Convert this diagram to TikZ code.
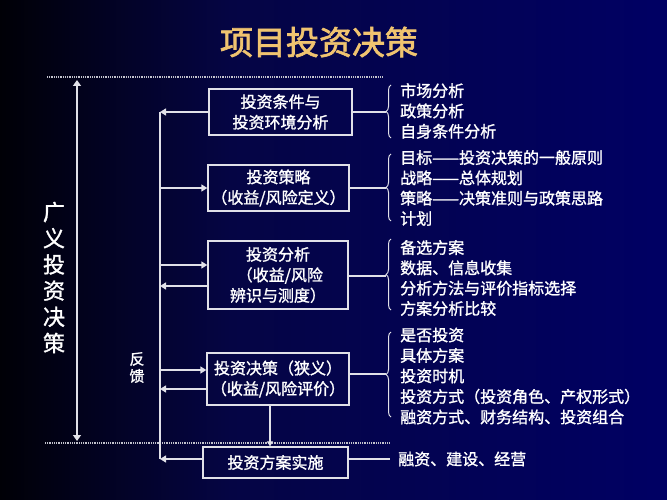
\documentclass[tikz,border=0pt]{standalone}
\usepackage{fontspec}
\setmainfont{Noto Sans CJK SC}[FakeBold=1.3]
\newfontfamily\titlefont{Noto Sans CJK SC}[FakeBold=2]
\usetikzlibrary{arrows.meta,decorations.pathreplacing}
\definecolor{bgL}{RGB}{0,0,6}
\definecolor{bgM}{RGB}{5,5,68}
\definecolor{bgR}{RGB}{0,0,100}
\definecolor{titlec}{RGB}{240,196,112}
\definecolor{linec}{RGB}{225,225,232}
\definecolor{dotc}{RGB}{195,195,205}
\begin{document}
\begin{tikzpicture}[x=1pt,y=-1pt,
  box/.style={draw=linec, line width=1.3pt, text=white, font=\fontsize{16}{20.5}\selectfont, align=center, inner sep=0pt},
  listtext/.style={text=white, font=\fontsize{16}{20.3}\selectfont, align=left, anchor=west, inner sep=0pt},
  conn/.style={draw=linec, line width=1.3pt},
  arr/.style={conn, -{Triangle[width=7pt,length=6pt]}},
  dotline/.style={draw=dotc, line width=1.2pt, dash pattern=on 1pt off 0.8pt},
  brc/.style={draw=linec, line width=1pt, decorate, decoration={brace, amplitude=5pt}}]
\useasboundingbox (0,0) rectangle (667,500);
\shade[left color=bgL, right color=bgM] (0,0) rectangle (230,500);
\shade[left color=bgM, right color=bgR] (229.5,0) rectangle (667,500);

% title
\node (title) at (319,42) [text=titlec, font=\titlefont\fontsize{33}{36}\selectfont, inner sep=0pt] {项目投资决策};

% dotted lines
\coordinate (dt1) at (47,77); \coordinate (dt2) at (383,77);
\coordinate (db1) at (45,443); \coordinate (db2) at (390,443);
\draw[dotline] (dt1) -- (dt2);
\draw[dotline] (db1) -- (db2);

% broad decision
\coordinate (vtop) at (77,80); \coordinate (vbot) at (77,441);
\draw[conn, {Triangle[width=8pt,length=6pt]}-{Triangle[width=8pt,length=6pt]}] (vtop) -- (vbot);
\node (vt) at (54,277.5) [text=white, font=\fontsize{22}{26.2}\selectfont, align=center, inner sep=0pt] {广\\义\\投\\资\\决\\策};

% feedback
\node (fk) at (137,367.5) [text=white, font=\fontsize{15}{17}\selectfont, align=center, inner sep=0pt] {反\\馈};
\coordinate (ftop) at (160,112); \coordinate (fbot) at (160,459);
\draw[conn] (ftop) -- (fbot);

% boxes
\node[box, minimum width=143pt, minimum height=46pt] (b1) at (280.5,112) {投资条件与\\投资环境分析};
\node[box, minimum width=141pt, minimum height=46pt] (b2) at (278.5,188) {投资策略\\（收益/风险定义）};
\node[box, minimum width=140pt, minimum height=68pt] (b3) at (278,275) {投资分析\\\ （收益/风险\\辨识与测度）};
\node[box, minimum width=142pt, minimum height=52pt] (b4) at (278,379) {投资决策（狭义）\\（收益/风险评价）};
\node[box, minimum width=145pt, minimum height=31pt] (b5) at (275.5,462.5) {投资方案实施};

% feedback arrows
\coordinate (f2) at (160,188);
\coordinate (f3a) at (160,265); \coordinate (f3b) at (160,286);
\coordinate (f4a) at (160,370); \coordinate (f4b) at (160,389);
\coordinate (f5) at (160,459);
\draw[arr] (b1.west) -- (ftop);
\draw[arr] (f2) -- (b2.west);
\draw[arr] (f3a) -- (f3a -| b3.west);
\draw[arr] (f3b -| b3.west) -- (f3b);
\draw[arr] (f4a) -- (f4a -| b4.west);
\draw[arr] (f4b -| b4.west) -- (f4b);
\draw[arr] (f5 -| b5.west) -- (f5);
\coordinate (dn) at (270,0);
\draw[conn, -{Triangle[width=6pt,length=5pt]}] (b4.south -| dn) -- (b5.north -| dn);

% right side connectors and braces
\coordinate (r1) at (386,112);
\coordinate (r2) at (386,188);
\coordinate (r3) at (386,276);
\coordinate (r4) at (386,374);
\coordinate (r5) at (390,459);
\draw[conn] (b1.east) -- (r1);
\draw[conn] (b2.east) -- (r2);
\draw[conn] (b3.east |- r3) -- (r3);
\draw[conn] (b4.east |- r4) -- (r4);
\draw[conn] (b5.east |- r5) -- (r5);
\coordinate (br1a) at (391,138); \coordinate (br1b) at (391,85);
\coordinate (br2a) at (391,221); \coordinate (br2b) at (391,154);
\coordinate (br3a) at (391,310); \coordinate (br3b) at (391,239);
\coordinate (br4a) at (391,417); \coordinate (br4b) at (391,332);
\draw[brc] (br1a) -- (br1b);
\draw[brc] (br2a) -- (br2b);
\draw[brc] (br3a) -- (br3b);
\draw[brc] (br4a) -- (br4b);

% lists
\node[listtext] (l1) at (400,111) {市场分析\\政策分析\\自身条件分析};
\node[listtext] (l2) at (400,188) {目标——投资决策的一般原则\\战略——总体规划\\策略——决策准则与政策思路\\计划};
\node[listtext] (l3) at (400,278) {备选方案\\数据、信息收集\\分析方法与评价指标选择\\方案分析比较};
\node[listtext, font=\fontsize{16}{20.5}\selectfont] (l4) at (400,376) {是否投资\\具体方案\\投资时机\\投资方式（投资角色、产权形式）\\融资方式、财务结构、投资组合};
\node[listtext] (l5) at (398,459) {融资、建设、经营};
\end{tikzpicture}
\end{document}
